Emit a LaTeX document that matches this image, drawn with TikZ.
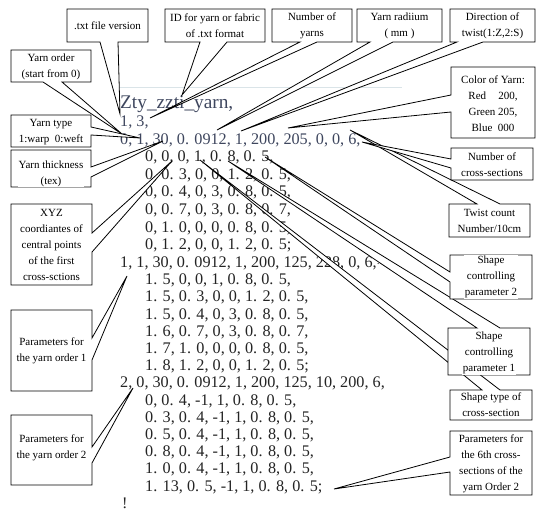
\documentclass[tikz,border=0pt]{standalone}
\usepackage{fontspec}
\setmainfont{Liberation Serif}
\definecolor{slate}{RGB}{62,70,94}
\definecolor{codegray}{RGB}{36,36,36}
\definecolor{faintline}{RGB}{218,228,232}
\tikzset{
  cshape/.style={draw=black, fill=white, line width=0.8bp, line join=miter},
  ctext/.style={fill=white, inner sep=1bp, align=center, font=\fontsize{11bp}{16bp}\selectfont, text=black},
  code/.style={anchor=base west, inner sep=0pt, font=\fontsize{16.2bp}{16bp}\selectfont, text=codegray},
}
% callout with wedge on bottom / top / left / right side
% args: x1,y1,x2,y2, a,b (wedge base), tip name, tip coordinate
\newcommand\cB[8]{\coordinate (#7) at (#8);
  \filldraw[cshape] (#1,#2) -- (#3,#2) -- (#3,#4) -- (#6,#4) -- (#7) -- (#5,#4) -- (#1,#4) -- cycle;}
\newcommand\cT[8]{\coordinate (#7) at (#8);
  \filldraw[cshape] (#1,#2) -- (#5,#2) -- (#7) -- (#6,#2) -- (#3,#2) -- (#3,#4) -- (#1,#4) -- cycle;}
\newcommand\cL[8]{\coordinate (#7) at (#8);
  \filldraw[cshape] (#1,#2) -- (#3,#2) -- (#3,#4) -- (#1,#4) -- (#1,#6) -- (#7) -- (#1,#5) -- cycle;}
\newcommand\cR[8]{\coordinate (#7) at (#8);
  \filldraw[cshape] (#1,#2) -- (#3,#2) -- (#3,#5) -- (#7) -- (#3,#6) -- (#3,#4) -- (#1,#4) -- cycle;}
\begin{document}
\begin{tikzpicture}[x=1bp,y=-1bp]
\fill[white] (0,0) rectangle (540,518);
\useasboundingbox (0,0) rectangle (540,518);
\draw[faintline, line width=0.8bp] (115,87) -- (402,87);

% ---- code text ----
\node[code, text=slate, font=\fontsize{19.3bp}{20bp}\selectfont] (l0) at (120,109) {Zty\_zzti\_yarn,};
\node[code, text=slate] (l1) at (120,126.5) {1, 3,};
\node[code, text=slate] (l2) at (120,144.1) {0, 1, 30, 0. 0912, 1, 200, 205, 0, 0, 6,};
\node[code] (l3) at (145,161.7) {0, 0, 0, 1, 0. 8, 0. 5,};
\node[code] (l4) at (145,179.3) {0, 0. 3, 0, 0, 1. 2, 0. 5,};
\node[code] (l5) at (145,196.9) {0, 0. 4, 0, 3, 0. 8, 0. 5,};
\node[code] (l6) at (145,214.5) {0, 0. 7, 0, 3, 0. 8, 0. 7,};
\node[code] (l7) at (145,232.1) {0, 1. 0, 0, 0, 0. 8, 0. 5,};
\node[code] (l8) at (145,249.7) {0, 1. 2, 0, 0, 1. 2, 0. 5;};
\node[code] (l9) at (120,267.5) {1, 1, 30, 0. 0912, 1, 200, 125, 228, 0, 6,\raisebox{3bp}{\fontsize{10bp}{10bp}\selectfont !}};
\node[code] (l10) at (145,284.7) {1. 5, 0, 0, 1, 0. 8, 0. 5,};
\node[code] (l11) at (145,301.9) {1. 5, 0. 3, 0, 0, 1. 2, 0. 5,};
\node[code] (l12) at (145,319.1) {1. 5, 0. 4, 0, 3, 0. 8, 0. 5,};
\node[code] (l13) at (145,336.3) {1. 6, 0. 7, 0, 3, 0. 8, 0. 7,};
\node[code] (l14) at (145,353.5) {1. 7, 1. 0, 0, 0, 0. 8, 0. 5,};
\node[code] (l15) at (145,370.7) {1. 8, 1. 2, 0, 0, 1. 2, 0. 5;};
\node[code] (l16) at (120,387.9) {2, 0, 30, 0. 0912, 1, 200, 125, 10, 200, 6,};
\node[code] (l17) at (145,405.1) {0, 0. 4, -1, 1, 0. 8, 0. 5,};
\node[code] (l18) at (145,422.3) {0. 3, 0. 4, -1, 1, 0. 8, 0. 5,};
\node[code] (l19) at (145,439.5) {0. 5, 0. 4, -1, 1, 0. 8, 0. 5,};
\node[code] (l20) at (145,456.7) {0. 8, 0. 4, -1, 1, 0. 8, 0. 5,};
\node[code] (l21) at (145,473.9) {1. 0, 0. 4, -1, 1, 0. 8, 0. 5,};
\node[code] (l22) at (145,491.1) {1. 13, 0. 5, -1, 1, 0. 8, 0. 5;};
\node[code] (l23) at (122,508.3) {!};

% ---- top row callouts ----
\cB{67}{9}{148}{42}{100}{118}{tA}{120,114}
\node[ctext] (cA) at (107.5,26) {.txt file version};
\cB{165}{9}{265}{42}{200}{227}{tB}{182,95}
\node[ctext] (cB) at (215,25.5) {ID for yarn or fabric\\of .txt format};
\cB{272}{9}{352}{42}{300}{317}{tC}{150,118}
\node[ctext] (cC) at (312,25.5) {Number of\\yarns};
\cB{357}{9}{442}{42}{370}{393}{tD}{217,130}
\node[ctext] (cD) at (399.5,25.5) {Yarn radiium\\( mm )};
\cB{450}{9}{535}{42}{457}{483}{tE}{241,131}
\node[ctext] (cE) at (492.5,25.5) {Direction of\\twist(1:Z,2:S)};

% ---- left column callouts ----
\cB{11}{50}{91}{82}{43}{62}{tL1}{122,134}
\node[ctext] (cL1) at (51,67) {Yarn order\\(start from 0)};
\cR{11}{115}{91}{147}{127}{135}{tL2}{140,138}
\node[ctext] (cL2) at (51,132) {Yarn type\\1:warp\ \ 0:weft};
\cR{11}{150}{91}{187}{167}{177}{tL3}{163,141}
\node[ctext] (cL3) at (51,173.5) {Yarn thickness\\(tex)};
\cR{11}{204}{92}{285}{233}{252}{tL4}{172,161}
\node[ctext] (cL4) at (51.5,245) {XYZ\\coordiantes of\\central points\\of the first\\cross-sctions};
\cR{11}{310}{92}{391}{338}{360}{tL5}{127,276}
\node[ctext] (cL5) at (51.5,351) {Parameters for\\the yarn order 1};
\cR{11}{415}{92}{485}{447}{463}{tL6}{133,388}
\node[ctext] (cL6) at (51.5,448) {Parameters for\\the yarn order 2};

% ---- right column callouts ----
\cL{451}{67}{535}{138}{95}{112}{tF}{288,128}
\node[ctext] (cF) at (493,104) {Color of Yarn:\\Red\hspace{1.1em}200,\\Green\ 205,\\Blue\ \ 000};
\cT{449}{204}{530}{237}{477}{500}{tH}{350,130}
\node[ctext] (cH) at (489.5,220.5) {Twist count\\Number/10cm};
\cL{451}{148}{533}{180}{159}{168}{tG}{362,142}
\node[ctext] (cG) at (492,164.5) {Number of\\cross-sections};
\cL{450}{431}{532}{495}{457}{472}{tM}{334,489}
\node[ctext] (cM) at (491,464) {Parameters for\\the 6th cross-\\sections of the\\yarn Order 2};
\cT{450}{390}{532}{420}{482}{500}{tK}{200,160}
\node[ctext] (cK) at (491,405) {Shape type of\\cross-section};
\cT{448}{328}{530}{375}{477}{500}{tJ}{228,161}
\node[ctext] (cJ) at (489,353) {Shape\\controlling\\parameter 1};
\cL{450}{255}{532}{299}{272}{282}{tI}{265,157}
\node[ctext] (cI) at (491,277) {Shape\\controlling\\parameter 2};
\end{tikzpicture}
\end{document}
